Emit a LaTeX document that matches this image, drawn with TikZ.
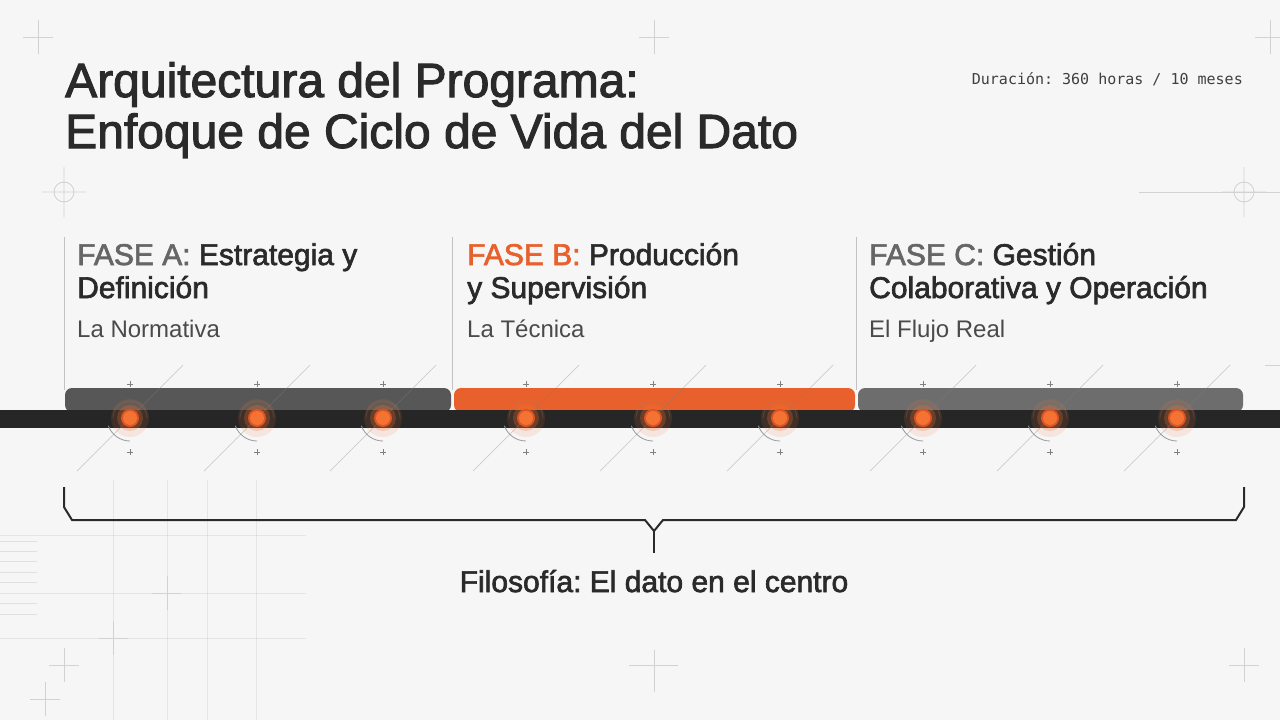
\documentclass[tikz,border=0pt]{standalone}
\usepackage{fontspec}
\setmainfont{Liberation Sans}
\newfontfamily\medfont[FakeBold=2.2]{Liberation Sans}
\newfontfamily\monofont{DejaVu Sans Mono}
\frenchspacing
\usetikzlibrary{positioning, calc}
\definecolor{bgpage}{HTML}{F6F6F6}
\definecolor{ink}{HTML}{2A2A2A}
\definecolor{inkgray}{HTML}{666666}
\definecolor{faseorange}{HTML}{E8602C}
\definecolor{dotorange}{HTML}{F47232}
\definecolor{bargray}{HTML}{575757}
\definecolor{bargrayc}{HTML}{6D6D6D}
\definecolor{railblack}{HTML}{262626}
\definecolor{guide}{HTML}{D2D2D2}

\tikzset{
  txt/.style={inner sep=0pt, anchor=base west, text=ink},
  heading/.style={txt, font=\medfont\fontsize{30}{34}\selectfont},
  subhead/.style={txt, font=\fontsize{24}{28}\selectfont, text=ink!85},
  guideline/.style={draw=guide, line width=0.8pt},
  crossmark/.style={guideline},
}

\begin{document}
\begin{tikzpicture}[x=1pt, y=-1pt]
  \fill[bgpage] (0,0) rectangle (1280,720);
  \useasboundingbox (0,0) rectangle (1280,720);

  \foreach \cx/\cy in {38/37, 654/37, 1270/37, 64/665, 45/699, 1244/665, 167/593, 113/638}
    \draw[crossmark] (\cx-15,\cy) -- (\cx+15,\cy) (\cx,\cy-17) -- (\cx,\cy+17);
  \draw[crossmark] (629,665) -- (678,665) (654,650) -- (654,692);
  \foreach \cx in {64, 1244}
    \draw[crossmark] (\cx-22,192) -- (\cx+22,192) (\cx,167) -- (\cx,217) (\cx,192) circle (10);
  \draw[guideline] (1139,192) -- (1280,192) (1265,365) -- (1280,365);
  \foreach \gx in {113, 167, 207, 256}
    \draw[guideline, draw opacity=0.45] (\gx,480) -- (\gx,720);
  \foreach \gy in {535, 593, 638}
    \draw[guideline, draw opacity=0.45] (0,\gy) -- (306,\gy);
  \foreach \gy in {541, 551, 561, 572, 582, 603, 614}
    \draw[guideline, draw opacity=0.6] (0,\gy) -- (37,\gy);

  \path (65,97) node[txt, font=\medfont\fontsize{48}{52}\selectfont] (title1) {Arquitectura del Programa:}
        (65,148) node[txt, font=\medfont\fontsize{48}{52}\selectfont] (title2) {Enfoque de Ciclo de Vida del Dato}
        (1243,84) node[txt, anchor=base east, font=\monofont\fontsize{15}{18}\selectfont, text=ink!90] (dur) {Duración: 360 horas / 10 meses};

  \draw[guide!80!gray, line width=1pt] (64,237) -- (64,390) (452,237) -- (452,390) (856,237) -- (856,390);

  \path (77,265) node[heading] (fa1) {\textcolor{inkgray}{FASE A:} Estrategia y}
        (77,298) node[heading] (fa2) {Definición}
        (77,337) node[subhead] (fa3) {La Normativa};
  \path (467,265) node[heading] (fb1) {\textcolor{faseorange}{FASE B:} Producción}
        (467,298) node[heading] (fb2) {y Supervisión}
        (467,337) node[subhead] (fb3) {La Técnica};
  \path (869,265) node[heading] (fc1) {\textcolor{inkgray}{FASE C:} Gestión}
        (869,298) node[heading] (fc2) {Colaborativa y Operación}
        (869,337) node[subhead] (fc3) {El Flujo Real};

  \fill[bargray, rounded corners=7] (65,412) -- (65,388) -- (451,388) -- (451,412) -- cycle;
  \fill[faseorange, rounded corners=7] (454,412) -- (454,388) -- (855,388) -- (855,412) -- cycle;
  \fill[bargrayc, rounded corners=7] (858,412) -- (858,388) -- (1243,388) -- (1243,412) -- cycle;
  \fill[railblack] (0,410) rectangle (1280,428);

  \foreach \dx [count=\i] in {130, 257, 383, 526, 653, 780, 923, 1050, 1177} {
    \coordinate (dot\i) at (\dx,418);
    \draw[gray, draw opacity=0.35, line width=0.7pt] ($(dot\i)+(-53,53)$) -- ($(dot\i)+(53,-53)$);
    \draw[gray, line width=0.6pt] ($(dot\i)+(-3,-34)$) -- ($(dot\i)+(3,-34)$) ($(dot\i)+(0,-37)$) -- ($(dot\i)+(0,-31)$)
                                  ($(dot\i)+(-3,34)$) -- ($(dot\i)+(3,34)$) ($(dot\i)+(0,31)$) -- ($(dot\i)+(0,37)$);
    \fill[dotorange, fill opacity=0.12] (dot\i) circle (19);
    \fill[dotorange, fill opacity=0.25] (dot\i) circle (13);
    \draw[gray, draw opacity=0.35, line width=0.7pt] ($(dot\i)+(17,0)$) arc (0:-180:17);
    \draw[gray!80, line width=0.8pt] ($(dot\i)+(0,23)$) arc (90:160:23);
    \fill[dotorange!80!red!90!black] (dot\i) circle (9);
    \fill[dotorange] (dot\i) circle (7);
  }

  \coordinate (bl) at (64,487);
  \coordinate (br) at (1244,487);
  \coordinate (tip) at (654,531);
  \draw[ink, line width=2pt, line join=miter] (bl) -- (64,507) -- (72,520) -- (645,520) -- (tip) -- (663,520) -- (1236,520) -- (1244,507) -- (br);
  \draw[ink, line width=2pt] (tip) -- (654,553) coordinate (stem);
  \node[txt, anchor=base, font=\medfont\fontsize{30}{34}\selectfont] (filo) at (654,592) {Filosofía: El dato en el centro};
\end{tikzpicture}
\end{document}
